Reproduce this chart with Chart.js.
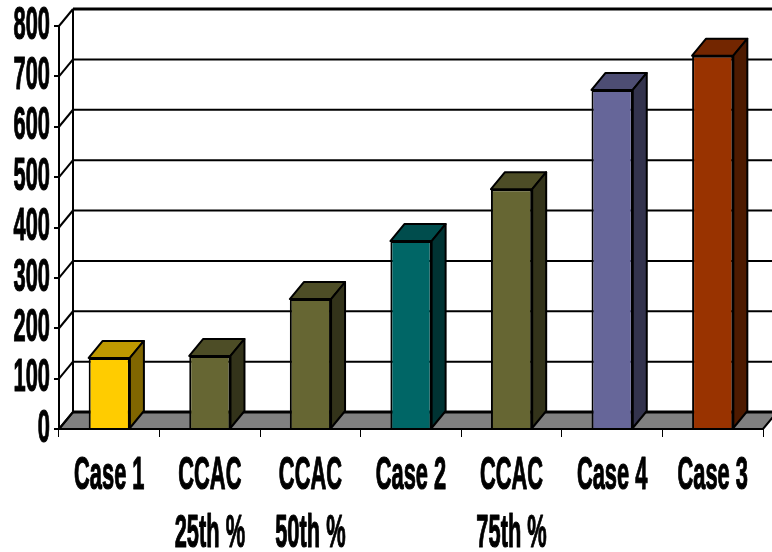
<!DOCTYPE html>
<html>
<head>
<meta charset="utf-8">
<title>Case comparison</title>
<style>
  html, body { margin: 0; padding: 0; background: #fff; }
  canvas { display: block; }
</style>
<script src="https://cdn.jsdelivr.net/npm/chart.js@4/dist/chart.umd.min.js"></script>
</head>
<body>
<canvas id="caseChart" width="772" height="552"></canvas>
<script>
const categories = [
    ['Case 1'],
    ['CCAC', '25th %'],
    ['CCAC', '50th %'],
    ['Case 2'],
    ['CCAC', '75th %'],
    ['Case 4'],
    ['Case 3']
];
const values = [141, 145, 258, 373, 476, 673, 741];
const barColors = ['#FFCC00', '#666633', '#666633', '#006666', '#666633', '#666699', '#993300'];

const DEPTH_X = 14;
const DEPTH_Y = 17;
const LABEL_FONT = 'bold 46px "Liberation Sans", Arial, sans-serif';
const SQUEEZE = 0.475;

// darken a #rrggbb colour, used for the top and side faces of the boxes
function shade(hex, factor) {
    const n = parseInt(hex.slice(1), 16);
    const r = Math.round((n >> 16) * factor);
    const g = Math.round(((n >> 8) & 255) * factor);
    const b = Math.round((n & 255) * factor);
    return `rgb(${r}, ${g}, ${b})`;
}

function polygon(ctx, points, fill) {
    ctx.beginPath();
    points.forEach((p, i) => i ? ctx.lineTo(p[0], p[1]) : ctx.moveTo(p[0], p[1]));
    ctx.closePath();
    ctx.fillStyle = fill;
    ctx.fill();
    ctx.stroke();
}

function line(ctx, x1, y1, x2, y2, width) {
    ctx.lineWidth = width;
    ctx.beginPath();
    ctx.moveTo(x1, y1);
    ctx.lineTo(x2, y2);
    ctx.stroke();
}

// text narrowed horizontally and slightly thickened, the axis labels are very condensed
function squeezedText(ctx, text, x, y, align) {
    ctx.save();
    ctx.translate(x, y);
    ctx.scale(SQUEEZE, 1);
    ctx.font = LABEL_FONT;
    ctx.fillStyle = '#000';
    ctx.strokeStyle = '#000';
    ctx.lineWidth = 1.2;
    ctx.textAlign = align;
    ctx.textBaseline = 'middle';
    ctx.fillText(text, 0, 0);
    ctx.strokeText(text, 0, 0);
    ctx.restore();
}

const wallsPlugin = {
    id: 'walls',
    beforeDatasetsDraw(chart) {
        const { ctx, scales: { x, y } } = chart;
        const left = x.left;
        const right = x.right;
        const zero = y.getPixelForValue(0);
        ctx.save();
        ctx.strokeStyle = '#000';

        // floor of the box
        ctx.lineWidth = 2;
        polygon(ctx, [
            [left, zero],
            [left + DEPTH_X, zero - DEPTH_Y],
            [right + DEPTH_X, zero - DEPTH_Y],
            [right, zero]
        ], '#808080');
        line(ctx, left + DEPTH_X, zero - DEPTH_Y, right + DEPTH_X, zero - DEPTH_Y, 3);

        // grid lines on the back wall and their diagonals on the side wall
        y.ticks.forEach(tick => {
            const py = y.getPixelForValue(tick.value);
            if (tick.value > 0) {
                line(ctx, left + DEPTH_X, py - DEPTH_Y, right + DEPTH_X, py - DEPTH_Y, tick.value === 800 ? 3 : 2);
            }
            line(ctx, left, py, left + DEPTH_X, py - DEPTH_Y, 2);
        });
        line(ctx, left + DEPTH_X, y.getPixelForValue(800) - DEPTH_Y, left + DEPTH_X, zero - DEPTH_Y, 2);
        ctx.restore();
    },
    afterDatasetsDraw(chart) {
        const { ctx, scales: { x, y } } = chart;
        const bars = chart.getDatasetMeta(0).data;
        ctx.save();
        ctx.strokeStyle = '#000';
        ctx.lineWidth = 2;
        ctx.lineJoin = 'round';
        bars.forEach((bar, i) => {
            const { x: cx, y: top, base, width } = bar.getProps(['x', 'y', 'base', 'width']);
            const l = cx - width / 2;
            const r = cx + width / 2;
            polygon(ctx, [
                [l, top], [l + DEPTH_X, top - DEPTH_Y], [r + DEPTH_X, top - DEPTH_Y], [r, top]
            ], shade(barColors[i], 0.75));
            polygon(ctx, [
                [r, top], [r + DEPTH_X, top - DEPTH_Y], [r + DEPTH_X, base - DEPTH_Y], [r, base]
            ], shade(barColors[i], 0.5));
        });

        // value labels left of the axis, category labels under it
        y.ticks.forEach(tick => {
            squeezedText(ctx, String(tick.value), 50, y.getPixelForValue(tick.value), 'right');
        });
        categories.forEach((lines, i) => {
            lines.forEach((text, n) => {
                squeezedText(ctx, text, x.getPixelForValue(i), 476 + n * 58, 'center');
            });
        });
        ctx.restore();
    }
};

new Chart(document.getElementById('caseChart').getContext('2d'), {
    type: 'bar',
    data: {
        labels: categories,
        datasets: [{
            data: values,
            backgroundColor: barColors,
            borderColor: '#000',
            borderWidth: 2,
            barPercentage: 0.41,
            categoryPercentage: 1
        }]
    },
    options: {
        responsive: false,
        animation: false,
        layout: { padding: { left: 54, top: 26, right: 9, bottom: 115 } },
        plugins: { legend: { display: false }, tooltip: { enabled: false } },
        scales: {
            x: {
                grid: { drawOnChartArea: false, color: '#000', tickLength: 8, lineWidth: 1 },
                border: { color: '#000', width: 2 },
                ticks: { display: false }
            },
            y: {
                min: 0,
                max: 800,
                grid: { drawOnChartArea: false, color: '#000', tickLength: 5, lineWidth: 2 },
                border: { color: '#000', width: 2 },
                ticks: { display: false, stepSize: 100 }
            }
        }
    },
    plugins: [wallsPlugin]
});
</script>
</body>
</html>
